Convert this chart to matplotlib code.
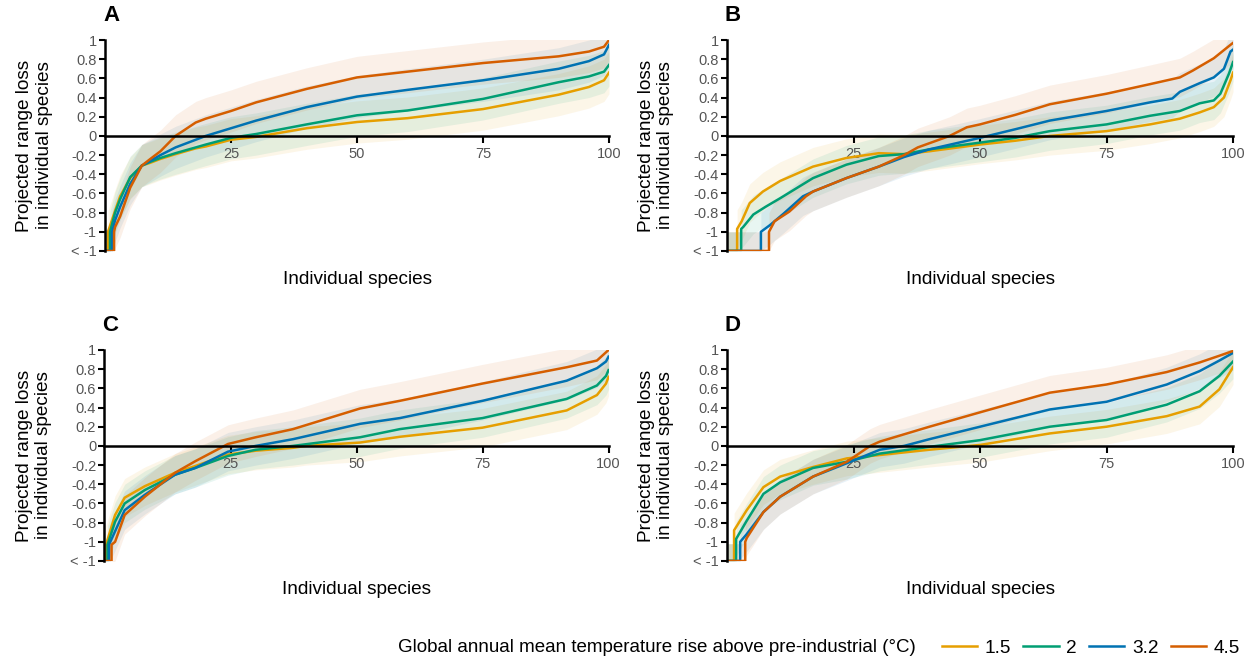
import numpy as np
import matplotlib
matplotlib.use('Agg')
import matplotlib.pyplot as plt

plt.rcParams['font.family'] = ['Liberation Sans', 'DejaVu Sans']

# Temperature scenarios and colours
TEMPS = ['1.5', '2', '3.2', '4.5']
COLORS = ['#E69F00', '#009E73', '#0072B2', '#D55E00']

# Panel A: (x, y) per scenario ("< -1" plotted at -1.2)
A_15_X = [0, 0.6, 0.6, 2, 3, 5, 7.3, 9, 11, 14, 18, 20, 25, 30, 40, 50, 60, 75, 90, 96, 99, 100]
A_15_Y = [-1.2, -1.2, -1.0, -0.78, -0.63, -0.44, -0.31, -0.28, -0.24, -0.19, -0.13, -0.11, -0.04, -0.01,
          0.08, 0.145, 0.185, 0.28, 0.43, 0.51, 0.58, 0.66]
A_2_X = [0, 1.0, 1.0, 2, 3, 5, 7.3, 9, 11, 14, 18, 20, 25, 30, 40, 50, 60, 75, 90, 96, 99, 100]
A_2_Y = [-1.2, -1.2, -1.0, -0.8, -0.66, -0.43, -0.31, -0.27, -0.23, -0.18, -0.12, -0.09, -0.02, 0.02,
         0.12, 0.215, 0.265, 0.386, 0.56, 0.62, 0.67, 0.74]
A_32_X = [0, 1.4, 1.4, 2, 3, 5, 7.3, 9, 11, 14, 18, 20, 25, 30, 40, 50, 60, 75, 90, 96, 99, 100]
A_32_Y = [-1.2, -1.2, -1.0, -0.88, -0.74, -0.5, -0.31, -0.26, -0.2, -0.12, -0.04, 0.0, 0.08, 0.16,
          0.30, 0.41, 0.48, 0.58, 0.70, 0.78, 0.85, 0.95]
A_45_X = [0, 1.8, 1.8, 2, 3, 5, 7.3, 9, 11, 14, 18, 20, 25, 30, 40, 50, 60, 75, 90, 96, 99, 100]
A_45_Y = [-1.2, -1.2, -1.0, -0.95, -0.84, -0.54, -0.31, -0.24, -0.16, 0.0, 0.14, 0.18, 0.26, 0.35,
          0.49, 0.61, 0.67, 0.76, 0.83, 0.88, 0.93, 1.0]

# Panel B
B_15_X = [0, 2.0, 2.0, 2.9, 4.5, 7.1, 10.5, 17, 23.6, 30, 35, 40, 50, 57, 63.8, 75, 83.6, 89.5, 93.4,
          96.2, 98.2, 99.5, 100]
B_15_Y = [-1.2, -1.2, -0.97, -0.89, -0.70, -0.58, -0.47, -0.32, -0.23, -0.18, -0.19, -0.16, -0.09,
          -0.05, 0.0, 0.05, 0.12, 0.18, 0.245, 0.30, 0.40, 0.58, 0.66]
B_2_X = [0, 2.8, 2.8, 3.2, 5.2, 7.6, 10.5, 17, 23.6, 30, 35, 40, 50, 57, 63.8, 75, 83.6, 89.5, 93.4,
         96.2, 97.5, 99.2, 100]
B_2_Y = [-1.2, -1.2, -0.97, -0.95, -0.82, -0.74, -0.65, -0.44, -0.30, -0.21, -0.19, -0.14, -0.07,
         -0.02, 0.05, 0.12, 0.21, 0.26, 0.34, 0.37, 0.44, 0.65, 0.77]
B_32_X = [0, 6.7, 6.7, 8.5, 11.2, 15, 17, 23.6, 30, 35, 40, 45, 50, 57, 63.8, 75, 83.6, 88, 89.5,
          93.4, 96.2, 98.2, 99.5, 100]
B_32_Y = [-1.2, -1.2, -1.0, -0.93, -0.81, -0.63, -0.58, -0.44, -0.32, -0.22, -0.14, -0.08, -0.02,
          0.07, 0.16, 0.26, 0.35, 0.39, 0.46, 0.55, 0.61, 0.70, 0.88, 0.9]
B_45_X = [0, 8.3, 8.3, 9.4, 12.3, 15.6, 17, 23.6, 30, 35, 37.7, 44, 47.4, 50, 57, 63.8, 75, 83.6,
          89.5, 92, 96.2, 99.5, 100]
B_45_Y = [-1.2, -1.2, -1.0, -0.89, -0.79, -0.63, -0.58, -0.44, -0.32, -0.2, -0.12, 0.0, 0.09, 0.12,
          0.22, 0.33, 0.44, 0.54, 0.61, 0.68, 0.81, 0.95, 0.97]

# Panel C
C_15_X = [0, 0.3, 0.3, 2.1, 4, 8, 14, 18, 24.5, 30, 37.4, 40, 50.7, 58.6, 75, 91.7, 97.7, 99.5, 100]
C_15_Y = [-1.2, -1.2, -1.03, -0.72, -0.54, -0.42, -0.28, -0.21, -0.09, -0.05, -0.02, 0.0, 0.035,
          0.095, 0.19, 0.37, 0.53, 0.65, 0.72]
C_2_X = [0, 0.6, 0.6, 2.1, 4, 8, 14, 18, 24.5, 30, 37.4, 50.7, 58.6, 75, 91.7, 97.7, 99.5, 100]
C_2_Y = [-1.2, -1.2, -1.03, -0.79, -0.60, -0.46, -0.30, -0.23, -0.105, -0.04, 0.0, 0.09, 0.175,
         0.29, 0.49, 0.63, 0.73, 0.79]
C_32_X = [0, 0.9, 0.9, 2.1, 4, 8, 14, 18, 24.5, 30, 37.4, 50.7, 58.6, 75, 91.7, 97.7, 99.5, 100]
C_32_Y = [-1.2, -1.2, -1.03, -0.89, -0.67, -0.51, -0.30, -0.23, -0.06, 0.0, 0.07, 0.23, 0.29, 0.47,
          0.68, 0.81, 0.88, 0.93]
C_45_X = [0, 1.4, 1.4, 2.1, 4, 8, 14, 18, 24.5, 30, 37.4, 50.7, 58.6, 75, 91.7, 97.7, 100]
C_45_Y = [-1.2, -1.2, -1.03, -1.0, -0.72, -0.53, -0.28, -0.16, 0.02, 0.09, 0.175, 0.39, 0.47, 0.65,
          0.82, 0.89, 1.0]

# Panel D
D_15_X = [0, 1.4, 1.4, 3.9, 7.2, 10.5, 17, 23.7, 30.2, 40, 50, 63.8, 75, 86.9, 93.4, 97.3, 100]
D_15_Y = [-1.2, -1.2, -0.88, -0.67, -0.43, -0.32, -0.22, -0.13, -0.095, -0.04, 0.01, 0.13, 0.20,
          0.31, 0.41, 0.59, 0.82]
D_2_X = [0, 1.8, 1.8, 3.9, 7.2, 10.5, 17, 23.7, 30.2, 40, 50, 63.8, 75, 86.9, 93.4, 97.3, 100]
D_2_Y = [-1.2, -1.2, -0.97, -0.78, -0.50, -0.38, -0.23, -0.165, -0.08, -0.01, 0.06, 0.20, 0.27,
         0.43, 0.57, 0.73, 0.88]
D_32_X = [0, 2.6, 2.6, 3.9, 7.2, 10.5, 17, 23.7, 30.2, 35, 40, 50, 63.8, 75, 86.9, 93.4, 97.3, 100]
D_32_Y = [-1.2, -1.2, -1.0, -0.92, -0.69, -0.53, -0.32, -0.18, -0.04, 0.0, 0.07, 0.2, 0.38, 0.46,
          0.64, 0.78, 0.89, 0.97]
D_45_X = [0, 3.6, 3.6, 3.9, 7.2, 10.5, 17, 23.7, 28.3, 30.2, 40, 50, 63.8, 75, 86.9, 93.4, 97.3, 100]
D_45_Y = [-1.2, -1.2, -1.0, -0.96, -0.69, -0.53, -0.32, -0.165, 0.0, 0.045, 0.2, 0.35, 0.555, 0.64,
          0.77, 0.87, 0.94, 0.99]

# Approximate half-width of the faint per-species spread around each curve
HAZE = {'A': 0.22, 'B': 0.2, 'C': 0.2, 'D': 0.18}

PANELS = {
    'A': [(A_15_X, A_15_Y), (A_2_X, A_2_Y), (A_32_X, A_32_Y), (A_45_X, A_45_Y)],
    'B': [(B_15_X, B_15_Y), (B_2_X, B_2_Y), (B_32_X, B_32_Y), (B_45_X, B_45_Y)],
    'C': [(C_15_X, C_15_Y), (C_2_X, C_2_Y), (C_32_X, C_32_Y), (C_45_X, C_45_Y)],
    'D': [(D_15_X, D_15_Y), (D_2_X, D_2_Y), (D_32_X, D_32_Y), (D_45_X, D_45_Y)],
}

Y_TICKS = [-1.2, -1, -0.8, -0.6, -0.4, -0.2, 0, 0.2, 0.4, 0.6, 0.8, 1]
Y_TICK_LABELS = ['< -1', '-1', '-0.8', '-0.6', '-0.4', '-0.2', '0', '0.2', '0.4', '0.6', '0.8', '1']
X_TICKS = [25, 50, 75, 100]

# Axes rectangles in figure fractions
RECTS = {
    'A': [0.0842, 0.6226, 0.4042, 0.3172],
    'B': [0.583, 0.6226, 0.4058, 0.3172],
    'C': [0.0838, 0.1564, 0.4042, 0.3173],
    'D': [0.583, 0.1564, 0.4058, 0.3173],
}

fig = plt.figure(figsize=(12.47, 6.65), dpi=100)

for name, series in PANELS.items():
    ax = fig.add_axes(RECTS[name])

    # Spread first, then the median curves on top
    for (xs, ys), c in zip(series, COLORS):
        xs = np.array(xs)
        ys = np.array(ys)
        ax.fill_between(xs, ys - HAZE[name], ys + HAZE[name], color=c, alpha=0.09, lw=0)
    for (xs, ys), c in zip(series, COLORS):
        ax.plot(xs, ys, color=c, lw=1.8, solid_joinstyle='round')

    ax.set_xlim(0, 100)
    ax.set_ylim(-1.2, 1)
    ax.set_yticks(Y_TICKS)
    ax.set_yticklabels(Y_TICK_LABELS)
    ax.set_xticks(X_TICKS)

    for s in ['top', 'right']:
        ax.spines[s].set_visible(False)
    ax.spines['bottom'].set_position(('data', 0))
    ax.spines['bottom'].set_linewidth(1.8)
    ax.spines['left'].set_linewidth(1.8)

    ax.tick_params(axis='y', length=4, width=1.5, labelsize=10.5, labelcolor='#555555', pad=2)
    ax.tick_params(axis='x', length=5, width=1.5, labelsize=10.5, labelcolor='#555555', pad=3)

    ax.text(-0.14, 0.5, 'Projected range loss\nin individual species', rotation=90,
            ha='center', va='center', fontsize=13.7, linespacing=1.2, transform=ax.transAxes)
    ax.text(0.5, -0.133, 'Individual species', ha='center', va='center', fontsize=13.7,
            transform=ax.transAxes)
    ax.text(-0.004, 1.118, name, ha='left', va='center', fontsize=16, fontweight='bold',
            transform=ax.transAxes)

# Legend row along the bottom
fig.text(398 / 1247, 1 - 648 / 665, 'Global annual mean temperature rise above pre-industrial (°C)',
         ha='left', va='center', fontsize=13.5)
handles = [plt.Line2D([], [], color=c, lw=1.8) for c in COLORS]
fig.legend(handles, TEMPS, loc='center right', bbox_to_anchor=(1240 / 1247, 1 - 648 / 665),
           ncol=4, frameon=False, fontsize=13.7, handlelength=1.85, handletextpad=0.4,
           columnspacing=0.65, borderpad=0, borderaxespad=0)

fig.savefig('out.png', dpi=100)
